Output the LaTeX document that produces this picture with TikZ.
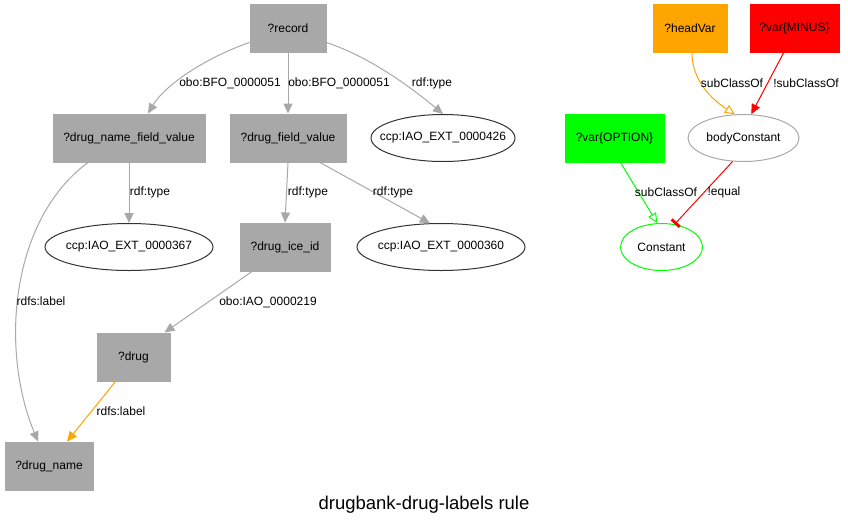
\documentclass[tikz,border=0pt]{standalone}
\usepackage{fontspec}
\setmainfont{Liberation Sans}
\usetikzlibrary{arrows.meta,shapes.geometric}
\definecolor{gvgray}{HTML}{A8A8A8}
\definecolor{gvorange}{HTML}{FFA500}
\definecolor{gvred}{HTML}{FF0000}
\definecolor{gvgreen}{HTML}{00FF00}
\newcommand{\ztext}[1]{\makebox[0pt]{#1}}
\tikzset{
  box/.style={rectangle, fill=gvgray, draw=gvgray, line width=1pt, minimum height=48pt, inner sep=0pt, font=\fontsize{12}{14}\selectfont},
  oval/.style={ellipse, draw=black!80, line width=1pt, minimum height=47pt, inner sep=0pt, font=\fontsize{12}{14}\selectfont},
  lbl/.style={inner sep=0pt, font=\fontsize{12}{14}\selectfont},
  edge/.style={draw=gvgray, line width=1pt, -{Triangle[length=10pt,width=9pt]}},
  openhead/.style={line width=1pt, -{Triangle[open,length=10pt,width=9pt,fill=white]}},
  filledhead/.style={line width=1pt, -{Triangle[length=10pt,width=9pt]}},
  teehead/.style={line width=1pt, -{Bar[width=11pt,line width=3pt]}},
}
\begin{document}
\begin{tikzpicture}[x=1pt,y=-1pt]
\useasboundingbox (0,0) rectangle (848,528);
% nodes
\node[box, minimum width=76pt] (record) at (288,28.5) {?record};
\node[box, minimum width=152pt] (dnfv) at (129,138) {?drug\_name\_field\_value};
\node[box, minimum width=116pt] (dfv) at (288,138) {?drug\_field\_value};
\node[oval, minimum width=144pt] (c426) at (443,138) {\ztext{ccp:IAO\_EXT\_0000426}};
\node[oval, minimum width=168pt] (c367) at (129,247) {\ztext{ccp:IAO\_EXT\_0000367}};
\node[box, minimum width=90pt] (ice) at (285,247) {?drug\_ice\_id};
\node[oval, minimum width=168pt] (c360) at (441,247) {\ztext{ccp:IAO\_EXT\_0000360}};
\node[box, minimum width=73pt] (drug) at (133.5,357) {?drug};
\node[box, minimum width=88pt] (dname) at (49,466) {?drug\_name};
\node[box, minimum width=74pt, fill=gvorange, draw=gvorange] (head) at (690,28.5) {?headVar};
\node[box, minimum width=89pt, fill=gvred, draw=gvred] (minus) at (794.5,28.5) {?var\{MINUS\}};
\node[box, minimum width=99pt, fill=gvgreen, draw=gvgreen] (option) at (614.5,138) {?var\{OPTION\}};
\node[oval, draw=gvgray, minimum width=111pt] (body) at (743.5,138) {\ztext{bodyConstant}};
\node[oval, draw=gvgreen, minimum width=82pt] (const) at (661.5,247) {\ztext{Constant}};
\node[inner sep=0pt, font=\fontsize{18.5}{22}\selectfont] (title) at (424,505) {drugbank-drug-labels rule};
% edges
\draw[edge] ([yshift=-14pt]record.west) .. controls (205,58) and (165,85) .. ([xshift=19pt]dnfv.north);
\node[lbl] (l1) at (230,83) {obo:BFO\_0000051};
\draw[edge] (record) -- (dfv);
\node[lbl] (l2) at (339,83) {obo:BFO\_0000051};
\draw[edge] ([yshift=-14pt]record.east) .. controls (370,57) and (412,88) .. (c426.north);
\node[lbl] (l3) at (432,83) {rdf:type};
\draw[edge] (dnfv) -- (c367);
\node[lbl] (l4) at (150,192) {rdf:type};
\draw[edge] ([xshift=-41pt]dnfv.south) .. controls (10,220) and (0,350) .. ([xshift=-11pt]dname.north);
\node[lbl] (l5) at (41,301) {rdfs:label};
\draw[edge] (dfv.south) -- (ice.north);
\node[lbl] (l6) at (308,192) {rdf:type};
\draw[edge] ([xshift=32pt]dfv.south) -- (c360.115);
\node[lbl] (l7) at (393,192) {rdf:type};
\draw[edge] ([xshift=-33pt]ice.south) -- ([xshift=31pt]drug.north);
\node[lbl] (l8) at (268,302) {obo:IAO\_0000219};
\draw[draw=gvorange, fill=gvorange, filledhead] ([xshift=-18pt]drug.south) -- ([xshift=18pt]dname.north);
\node[lbl] (l9) at (121,411) {rdfs:label};
\draw[draw=gvorange, openhead] ([xshift=2pt]head.south) .. controls (692,75) and (705,95) .. (body.110);
\node[lbl] (l10) at (732,83) {subClassOf};
\draw[draw=gvred, fill=gvred, filledhead] ([xshift=-11pt]minus.south) -- (body.72);
\node[lbl] (l11) at (806,83) {!subClassOf};
\draw[draw=gvgreen, openhead] ([xshift=6pt]option.south) -- (const.100);
\node[lbl] (l12) at (666,192) {subClassOf};
\draw[draw=gvred, teehead] (body.245) -- (const.60);
\node[lbl] (l13) at (724,192) {!equal};
\end{tikzpicture}
\end{document}
